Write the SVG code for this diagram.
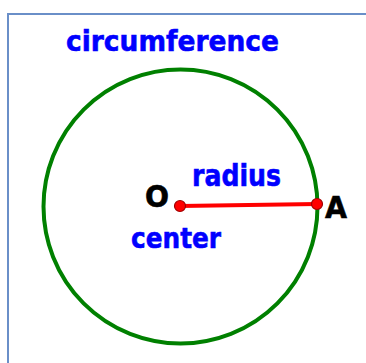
<svg xmlns="http://www.w3.org/2000/svg" width="366" height="363" viewBox="0 0 366 363">
<style>
.lbl{font-family:"DejaVu Sans","Liberation Sans",sans-serif;font-weight:bold;fill:#0000ff;stroke:#0000ff;stroke-width:0.6}
.pt{font-family:"DejaVu Sans","Liberation Sans",sans-serif;font-weight:bold;fill:#000000;stroke:#000000;stroke-width:0.6}
.dot{fill:#ff0000;stroke:#a00000;stroke-width:1.2}
</style>
<rect width="366" height="363" fill="#ffffff"/>
<rect x="8" y="14" width="400" height="400" fill="none" stroke="#6a8fc8" stroke-width="2"/>
<g id="circle">
<circle cx="180.5" cy="206.5" r="137" fill="none" stroke="#008000" stroke-width="4"/>
</g>
<g id="connectors">
<line x1="180" y1="206" x2="317" y2="204" stroke="#ff0000" stroke-width="4"/>
</g>
<g id="O">
<circle class="dot" cx="180" cy="206" r="5.5"/>
<text class="pt" x="145" y="207" font-size="30" textLength="24" lengthAdjust="spacingAndGlyphs">O</text>
</g>
<g id="A">
<circle class="dot" cx="317" cy="204" r="5.5"/>
<text class="pt" x="325" y="218" font-size="31" textLength="22" lengthAdjust="spacingAndGlyphs">A</text>
</g>
<g id="labels">
<text class="lbl" x="66" y="51" font-size="29" textLength="213" lengthAdjust="spacingAndGlyphs">circumference</text>
<text class="lbl" x="192" y="186" font-size="30" textLength="89" lengthAdjust="spacingAndGlyphs">radius</text>
<text class="lbl" x="131" y="248" font-size="29" textLength="90" lengthAdjust="spacingAndGlyphs">center</text>
</g>
</svg>
